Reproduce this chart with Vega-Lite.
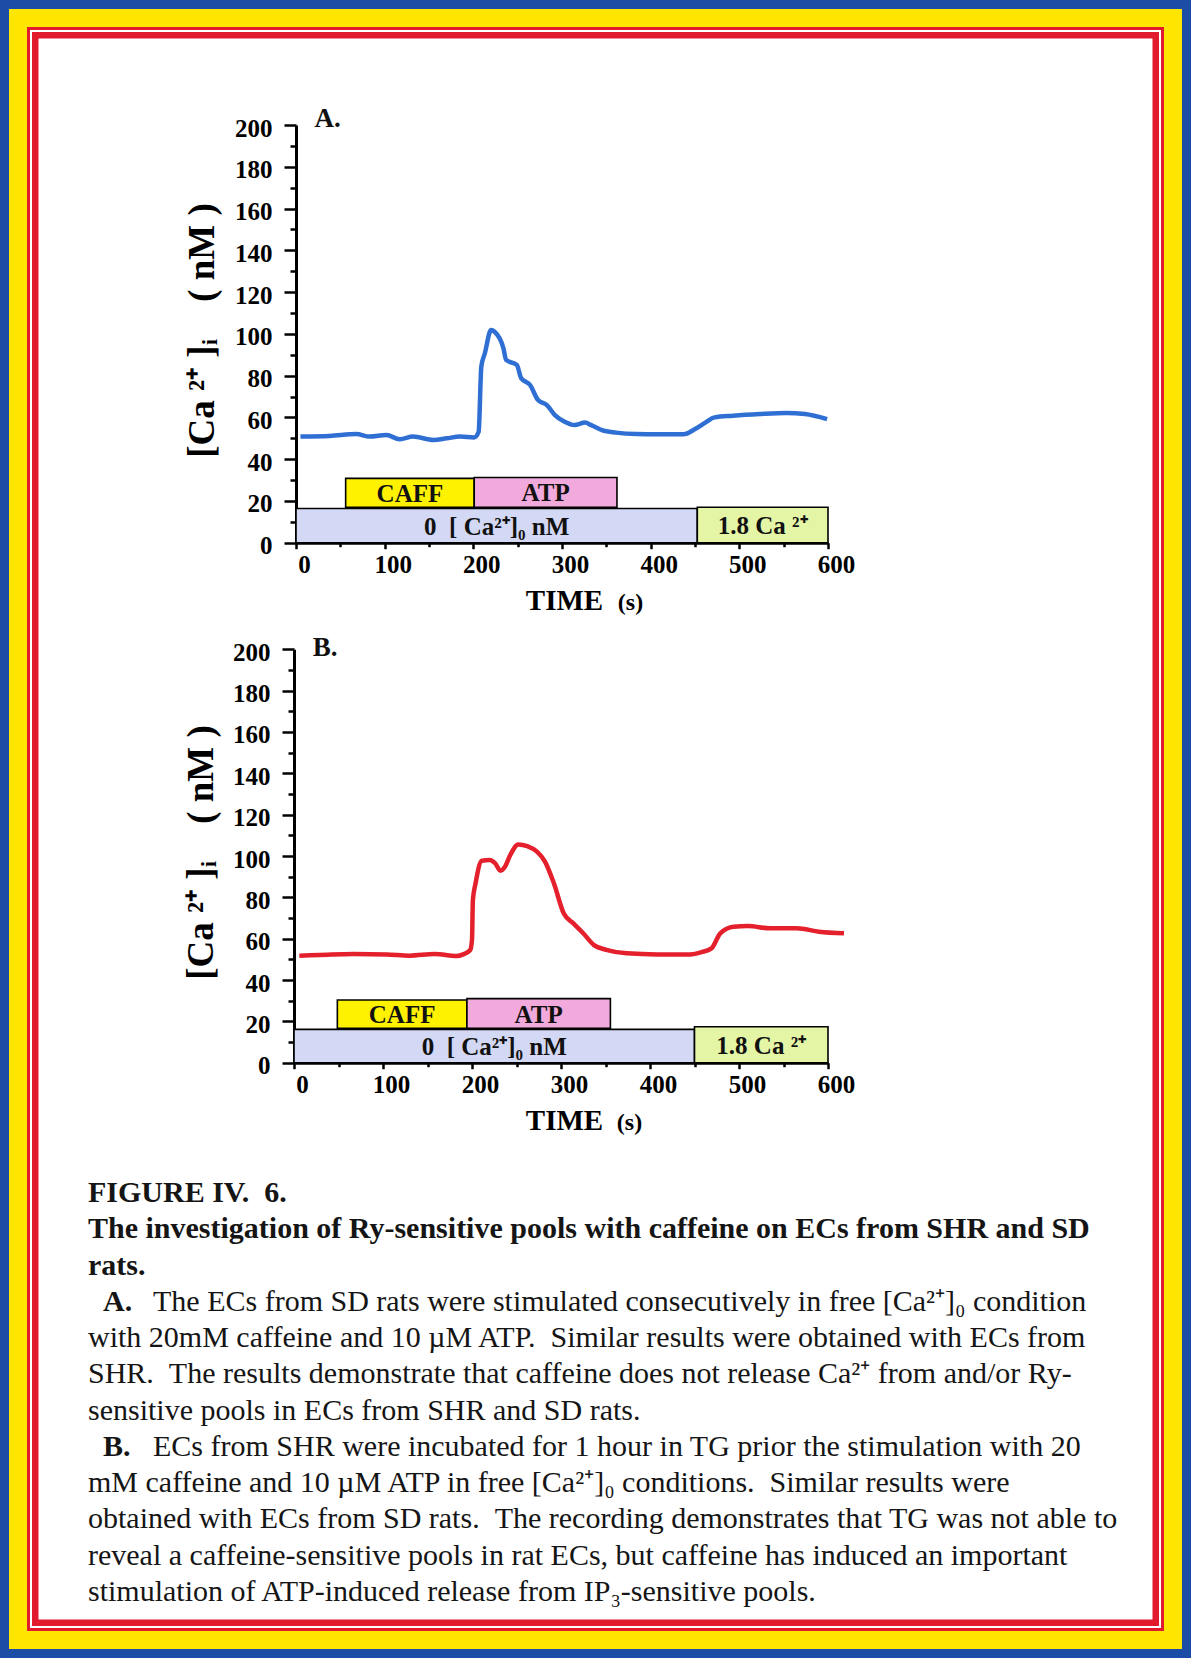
{
  "$schema": "https://vega.github.io/schema/vega-lite/v6.json",
  "width": 1191,
  "height": 1658,
  "padding": 0,
  "autosize": {"type": "none"},
  "background": "white",
  "config": {
    "view": {"stroke": null},
    "font": "Liberation Serif",
    "axis": {
      "grid": false,
      "labelFont": "Liberation Serif",
      "labelFontWeight": "bold",
      "labelFontSize": 25,
      "labelColor": "black",
      "titleFont": "Liberation Serif",
      "titleFontWeight": "bold",
      "titleColor": "black",
      "domainColor": "black",
      "domainWidth": 3,
      "tickColor": "black",
      "tickWidth": 2.5,
      "labelFlush": false,
      "labelOverlap": false,
      "labelBound": false
    }
  },
  "datasets": {
    "curveA": [
      {"t": 5, "v": 50.8}, {"t": 38, "v": 51.1}, {"t": 68, "v": 52.0}, {"t": 83, "v": 50.8},
      {"t": 102, "v": 51.6}, {"t": 117, "v": 49.5}, {"t": 132, "v": 50.8}, {"t": 155, "v": 49.2},
      {"t": 170, "v": 50.0}, {"t": 185, "v": 50.8}, {"t": 201, "v": 50.4}, {"t": 206, "v": 53.1},
      {"t": 209, "v": 84.3}, {"t": 213, "v": 90.7}, {"t": 220, "v": 101.8}, {"t": 224, "v": 101.0},
      {"t": 234, "v": 93.0}, {"t": 237, "v": 87.5}, {"t": 249, "v": 85.1}, {"t": 254, "v": 78.7},
      {"t": 264, "v": 75.5}, {"t": 273, "v": 68.3}, {"t": 283, "v": 65.9}, {"t": 292, "v": 61.1},
      {"t": 303, "v": 57.9}, {"t": 314, "v": 56.3}, {"t": 326, "v": 57.5}, {"t": 333, "v": 56.3},
      {"t": 345, "v": 53.9}, {"t": 361, "v": 52.7}, {"t": 384, "v": 52.0}, {"t": 407, "v": 51.9},
      {"t": 437, "v": 51.9}, {"t": 450, "v": 54.4}, {"t": 462, "v": 57.6}, {"t": 472, "v": 60.0},
      {"t": 493, "v": 60.8}, {"t": 523, "v": 61.6}, {"t": 553, "v": 62.1}, {"t": 574, "v": 61.6},
      {"t": 599, "v": 59.2}
    ],
    "curveB": [
      {"t": 6, "v": 51.8}, {"t": 29, "v": 52.1}, {"t": 67, "v": 52.6}, {"t": 104, "v": 52.4},
      {"t": 130, "v": 51.8}, {"t": 158, "v": 52.6}, {"t": 183, "v": 51.6}, {"t": 190, "v": 52.4},
      {"t": 198, "v": 54.5}, {"t": 200, "v": 59.4}, {"t": 201, "v": 78.7}, {"t": 204, "v": 86.8},
      {"t": 211, "v": 97.7}, {"t": 220, "v": 98.1}, {"t": 226, "v": 96.5}, {"t": 232, "v": 92.9},
      {"t": 237, "v": 94.8}, {"t": 243, "v": 100.5}, {"t": 252, "v": 105.6}, {"t": 262, "v": 104.8},
      {"t": 273, "v": 102.1}, {"t": 282, "v": 97.3}, {"t": 292, "v": 86.8}, {"t": 303, "v": 72.3},
      {"t": 314, "v": 67.4}, {"t": 325, "v": 62.6}, {"t": 337, "v": 56.9}, {"t": 352, "v": 54.5},
      {"t": 374, "v": 52.9}, {"t": 408, "v": 52.4}, {"t": 445, "v": 52.4}, {"t": 458, "v": 53.5},
      {"t": 469, "v": 55.3}, {"t": 479, "v": 62.6}, {"t": 494, "v": 65.8}, {"t": 510, "v": 66.1},
      {"t": 535, "v": 65.0}, {"t": 565, "v": 65.0}, {"t": 590, "v": 63.4}, {"t": 618, "v": 62.6}
    ],
    "barsA": [
      {"name": "CAFF", "label": "CAFF", "start": 56, "end": 201, "lo": 16.9, "hi": 30.8},
      {"name": "ATP", "label": "ATP", "start": 201, "end": 362, "lo": 16.9, "hi": 31.2},
      {"name": "0Ca", "label": "0\u00a0\u00a0[ Ca\u00b2\u207a]\u2080 nM", "start": 0, "end": 452.6, "lo": 0, "hi": 16.4},
      {"name": "1.8Ca", "label": "1.8 Ca \u00b2\u207a", "start": 452.6, "end": 600, "lo": 0, "hi": 17.0}
    ],
    "barsB": [
      {"name": "CAFF", "label": "CAFF", "start": 48.7, "end": 194.3, "lo": 16.6, "hi": 30.3},
      {"name": "ATP", "label": "ATP", "start": 194.3, "end": 355.5, "lo": 16.6, "hi": 31.0},
      {"name": "0Ca", "label": "0\u00a0\u00a0[ Ca\u00b2\u207a]\u2080 nM", "start": 0, "end": 450, "lo": 0, "hi": 16.1},
      {"name": "1.8Ca", "label": "1.8 Ca \u00b2\u207a", "start": 450, "end": 600, "lo": 0, "hi": 17.4}
    ],
    "capBold": [
      {"line": 1, "text": "FIGURE IV.\u00a0\u00a06."},
      {"line": 2, "text": "The investigation of Ry-sensitive pools with caffeine on ECs from SHR and SD"},
      {"line": 3, "text": "rats."}
    ],
    "capMarks": [
      {"line": 4, "text": "A."},
      {"line": 8, "text": "B."}
    ],
    "capFirst": [
      {"line": 4, "text": "The ECs from SD rats were stimulated consecutively in free [Ca\u00b2\u207a]\u2080 condition"},
      {"line": 8, "text": "ECs from SHR were incubated for 1 hour in TG prior the stimulation with 20"}
    ],
    "capBody": [
      {"line": 5, "text": "with 20mM caffeine and 10 \u00b5M ATP.\u00a0\u00a0Similar results were obtained with ECs from"},
      {"line": 6, "text": "SHR.\u00a0\u00a0The results demonstrate that caffeine does not release Ca\u00b2\u207a from and/or Ry-"},
      {"line": 7, "text": "sensitive pools in ECs from SHR and SD rats."},
      {"line": 9, "text": "mM caffeine and 10 \u00b5M ATP in free [Ca\u00b2\u207a]\u2080 conditions.\u00a0\u00a0Similar results were"},
      {"line": 10, "text": "obtained with ECs from SD rats.\u00a0\u00a0The recording demonstrates that TG was not able to"},
      {"line": 11, "text": "reveal a caffeine-sensitive pools in rat ECs, but caffeine has induced an important"},
      {"line": 12, "text": "stimulation of ATP-induced release from IP\u2083-sensitive pools."}
    ]
  },
  "layer": [
    {"data": {"values": [{}]}, "mark": {"type": "rect", "fill": "transparent", "stroke": "#e11a2d", "strokeWidth": 77}, "encoding": {}},
    {"data": {"values": [{}]}, "mark": {"type": "rect", "fill": "transparent", "stroke": "#ffffff", "strokeWidth": 64}, "encoding": {}},
    {"data": {"values": [{}]}, "mark": {"type": "rect", "fill": "transparent", "stroke": "#e11a2d", "strokeWidth": 60}, "encoding": {}},
    {"data": {"values": [{}]}, "mark": {"type": "rect", "fill": "transparent", "stroke": "#ffe600", "strokeWidth": 54}, "encoding": {}},
    {"data": {"values": [{}]}, "mark": {"type": "rect", "fill": "transparent", "stroke": "#1b4ca6", "strokeWidth": 18}, "encoding": {}},

    {
      "data": {"name": "barsA"},
      "mark": {"type": "rect", "stroke": "black", "strokeWidth": 1.6},
      "encoding": {
        "x": {"field": "start", "type": "quantitative", "scale": {"domain": [0, 600], "range": [296, 828], "nice": false, "zero": false},
              "axis": {"orient": "bottom", "offset": -1115.3, "values": [50, 150, 250, 350, 450, 550], "labels": false, "domain": false, "tickSize": 4, "title": "(s)", "titleX": 630, "titleY": 67, "titleAlign": "center", "titleBaseline": "alphabetic", "titleFontSize": 24}},
        "x2": {"field": "end"},
        "y": {"field": "lo", "type": "quantitative", "scale": {"domain": [0, 200], "range": [542.7, 125], "nice": false, "zero": false},
              "axis": {"orient": "left", "offset": -296, "values": [10, 30, 50, 70, 90, 110, 130, 150, 170, 190], "labels": false, "domain": false, "tickSize": 6, "title": null}},
        "y2": {"field": "hi"},
        "color": {"field": "name", "type": "nominal", "scale": {"domain": ["CAFF", "ATP", "0Ca", "1.8Ca"], "range": ["#fff200", "#f2a9dc", "#d3d8f4", "#e5f5a6"]}, "legend": null}
      }
    },
    {
      "data": {"name": "barsA"},
      "transform": [{"calculate": "(datum.start + datum.end) / 2", "as": "mid"}, {"calculate": "(datum.lo + datum.hi) / 2", "as": "midv"}],
      "mark": {"type": "text", "font": "Liberation Serif", "fontWeight": "bold", "fontSize": 25, "color": "#111111", "align": "center", "baseline": "middle", "dy": 1},
      "encoding": {
        "x": {"field": "mid", "type": "quantitative", "scale": {"domain": [0, 600], "range": [296, 828], "nice": false, "zero": false}, "axis": null},
        "y": {"field": "midv", "type": "quantitative", "scale": {"domain": [0, 200], "range": [542.7, 125], "nice": false, "zero": false}, "axis": null},
        "text": {"field": "label"}
      }
    },
    {
      "data": {"name": "curveA"},
      "mark": {"type": "line", "color": "#2f6fd3", "strokeWidth": 4.5, "interpolate": "monotone"},
      "encoding": {
        "x": {"field": "t", "type": "quantitative", "scale": {"domain": [0, 600], "range": [296, 828], "nice": false, "zero": false},
              "axis": {"orient": "bottom", "offset": -1115.3, "values": [0, 100, 200, 300, 400, 500, 600], "tickSize": 6, "labelPadding": 4, "labelOffset": 8, "title": "TIME", "titleX": 564, "titleY": 67, "titleAlign": "center", "titleBaseline": "alphabetic", "titleFontSize": 29}},
        "y": {"field": "v", "type": "quantitative", "scale": {"domain": [0, 200], "range": [542.7, 125], "nice": false, "zero": false},
              "axis": {"orient": "left", "offset": -296, "values": [0, 20, 40, 60, 80, 100, 120, 140, 160, 180, 200], "tickSize": 12, "labelPadding": 12, "labelOffset": 3, "title": "[Ca\u00a0\u00b2\u207a\u00a0]\u1d62\u00a0\u00a0\u00a0\u00a0(\u00a0nM\u00a0)", "titleX": -94, "titleY": 330, "titleAngle": 270, "titleAlign": "center", "titleBaseline": "middle", "titleFontSize": 37}}
      }
    },
    {
      "data": {"values": [{"panel": "A."}]},
      "mark": {"type": "text", "font": "Liberation Serif", "fontWeight": "bold", "fontSize": 27, "color": "#111111", "align": "left", "baseline": "alphabetic"},
      "encoding": {
        "x": {"datum": 21, "type": "quantitative", "scale": {"domain": [0, 600], "range": [296, 828], "nice": false, "zero": false}, "axis": null},
        "y": {"datum": 199, "type": "quantitative", "scale": {"domain": [0, 200], "range": [542.7, 125], "nice": false, "zero": false}, "axis": null},
        "text": {"field": "panel"}
      }
    },

    {
      "data": {"name": "barsB"},
      "mark": {"type": "rect", "stroke": "black", "strokeWidth": 1.6},
      "encoding": {
        "x": {"field": "start", "type": "quantitative", "scale": {"domain": [0, 600], "range": [294, 828], "nice": false, "zero": false},
              "axis": {"orient": "bottom", "offset": -595.3, "values": [50, 150, 250, 350, 450, 550], "labels": false, "domain": false, "tickSize": 4, "title": "(s)", "titleX": 629, "titleY": 67, "titleAlign": "center", "titleBaseline": "alphabetic", "titleFontSize": 24}},
        "x2": {"field": "end"},
        "y": {"field": "lo", "type": "quantitative", "scale": {"domain": [0, 200], "range": [1062.7, 649.3], "nice": false, "zero": false},
              "axis": {"orient": "left", "offset": -294, "values": [10, 30, 50, 70, 90, 110, 130, 150, 170, 190], "labels": false, "domain": false, "tickSize": 6, "title": null}},
        "y2": {"field": "hi"},
        "color": {"field": "name", "type": "nominal", "scale": {"domain": ["CAFF", "ATP", "0Ca", "1.8Ca"], "range": ["#fff200", "#f2a9dc", "#d3d8f4", "#e5f5a6"]}, "legend": null}
      }
    },
    {
      "data": {"name": "barsB"},
      "transform": [{"calculate": "(datum.start + datum.end) / 2", "as": "mid"}, {"calculate": "(datum.lo + datum.hi) / 2", "as": "midv"}],
      "mark": {"type": "text", "font": "Liberation Serif", "fontWeight": "bold", "fontSize": 25, "color": "#111111", "align": "center", "baseline": "middle", "dy": 1},
      "encoding": {
        "x": {"field": "mid", "type": "quantitative", "scale": {"domain": [0, 600], "range": [294, 828], "nice": false, "zero": false}, "axis": null},
        "y": {"field": "midv", "type": "quantitative", "scale": {"domain": [0, 200], "range": [1062.7, 649.3], "nice": false, "zero": false}, "axis": null},
        "text": {"field": "label"}
      }
    },
    {
      "data": {"name": "curveB"},
      "mark": {"type": "line", "color": "#e3202c", "strokeWidth": 4.5, "interpolate": "monotone"},
      "encoding": {
        "x": {"field": "t", "type": "quantitative", "scale": {"domain": [0, 600], "range": [294, 828], "nice": false, "zero": false},
              "axis": {"orient": "bottom", "offset": -595.3, "values": [0, 100, 200, 300, 400, 500, 600], "tickSize": 6, "labelPadding": 4, "labelOffset": 8, "title": "TIME", "titleX": 564, "titleY": 67, "titleAlign": "center", "titleBaseline": "alphabetic", "titleFontSize": 29}},
        "y": {"field": "v", "type": "quantitative", "scale": {"domain": [0, 200], "range": [1062.7, 649.3], "nice": false, "zero": false},
              "axis": {"orient": "left", "offset": -294, "values": [0, 20, 40, 60, 80, 100, 120, 140, 160, 180, 200], "tickSize": 12, "labelPadding": 12, "labelOffset": 3, "title": "[Ca\u00a0\u00b2\u207a\u00a0]\u1d62\u00a0\u00a0\u00a0\u00a0(\u00a0nM\u00a0)", "titleX": -93, "titleY": 852, "titleAngle": 270, "titleAlign": "center", "titleBaseline": "middle", "titleFontSize": 37}}
      }
    },
    {
      "data": {"values": [{"panel": "B."}]},
      "mark": {"type": "text", "font": "Liberation Serif", "fontWeight": "bold", "fontSize": 27, "color": "#111111", "align": "left", "baseline": "alphabetic"},
      "encoding": {
        "x": {"datum": 21, "type": "quantitative", "scale": {"domain": [0, 600], "range": [294, 828], "nice": false, "zero": false}, "axis": null},
        "y": {"datum": 197, "type": "quantitative", "scale": {"domain": [0, 200], "range": [1062.7, 649.3], "nice": false, "zero": false}, "axis": null},
        "text": {"field": "panel"}
      }
    },

    {
      "data": {"name": "capBold"},
      "mark": {"type": "text", "font": "Liberation Serif", "fontWeight": "bold", "fontSize": 30, "color": "#151515", "align": "left", "baseline": "alphabetic"},
      "encoding": {
        "x": {"datum": 0, "type": "quantitative", "scale": {"domain": [0, 1000], "range": [88, 1088]}, "axis": null},
        "y": {"field": "line", "type": "quantitative", "scale": {"domain": [1, 12], "range": [1202, 1601]}, "axis": null},
        "text": {"field": "text"}
      }
    },
    {
      "data": {"name": "capMarks"},
      "mark": {"type": "text", "font": "Liberation Serif", "fontWeight": "bold", "fontSize": 30, "color": "#151515", "align": "left", "baseline": "alphabetic"},
      "encoding": {
        "x": {"datum": 15, "type": "quantitative", "scale": {"domain": [0, 1000], "range": [88, 1088]}, "axis": null},
        "y": {"field": "line", "type": "quantitative", "scale": {"domain": [1, 12], "range": [1202, 1601]}, "axis": null},
        "text": {"field": "text"}
      }
    },
    {
      "data": {"name": "capFirst"},
      "mark": {"type": "text", "font": "Liberation Serif", "fontSize": 30, "color": "#151515", "align": "left", "baseline": "alphabetic"},
      "encoding": {
        "x": {"datum": 65, "type": "quantitative", "scale": {"domain": [0, 1000], "range": [88, 1088]}, "axis": null},
        "y": {"field": "line", "type": "quantitative", "scale": {"domain": [1, 12], "range": [1202, 1601]}, "axis": null},
        "text": {"field": "text"}
      }
    },
    {
      "data": {"name": "capBody"},
      "mark": {"type": "text", "font": "Liberation Serif", "fontSize": 30, "color": "#151515", "align": "left", "baseline": "alphabetic"},
      "encoding": {
        "x": {"datum": 0, "type": "quantitative", "scale": {"domain": [0, 1000], "range": [88, 1088]}, "axis": null},
        "y": {"field": "line", "type": "quantitative", "scale": {"domain": [1, 12], "range": [1202, 1601]}, "axis": null},
        "text": {"field": "text"}
      }
    }
  ],
  "resolve": {
    "scale": {"x": "independent", "y": "independent", "color": "independent"},
    "axis": {"x": "independent", "y": "independent"}
  }
}
